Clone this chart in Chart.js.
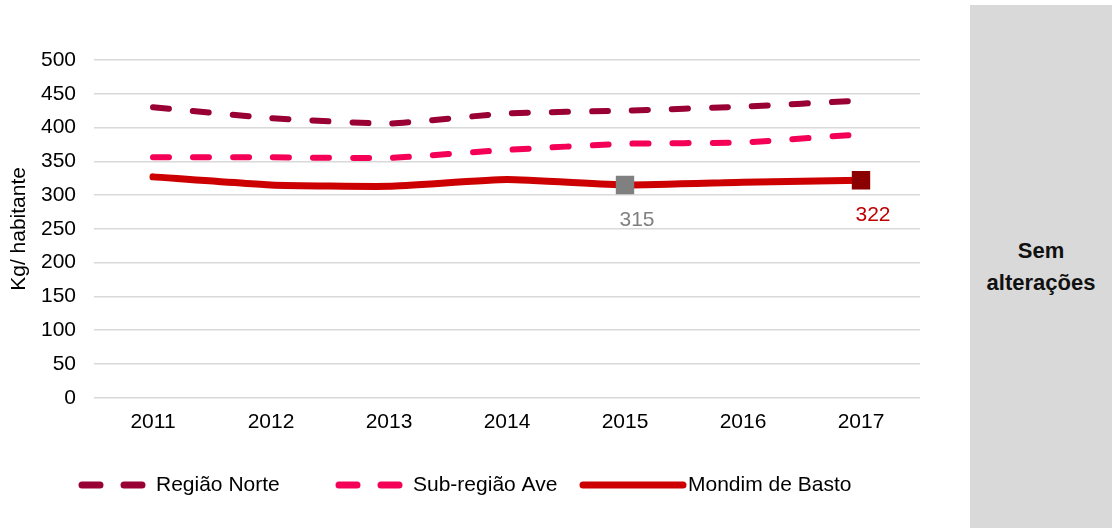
<!DOCTYPE html>
<html>
<head>
<meta charset="utf-8">
<script src="https://cdn.jsdelivr.net/npm/chart.js@4"></script>
<style>
  html, body { margin: 0; padding: 0; background: #fff; }
  #wrap { position: absolute; left: 0; top: 0; width: 960px; height: 528px; }
  #side {
    position: absolute; left: 970px; top: 5px; width: 142px; height: 523px;
    background: #d9d9d9; display: flex; align-items: center; justify-content: center;
    font: bold 22px "Liberation Sans", Arial, sans-serif; text-align: center; line-height: 1.45; color: #111;
  }
</style>
</head>
<body>
<div id="wrap"><canvas id="chart1"></canvas></div>
<div id="side">Sem<br>alterações</div>
<script>
const anos = ['2011', '2012', '2013', '2014', '2015', '2016', '2017'];
const regiaoNorte = [430, 414, 406, 421, 425, 431, 440];
const subRegiaoAve = [356, 356, 355, 367, 376, 378, 390];
const mondimBasto = [327, 315, 313, 323, 315, 319, 322];

// pontos destacados em Mondim de Basto (2015 e 2017)
const destaques = [
  { idx: 4, cor: '#808080', corTexto: '#808080' },
  { idx: 6, cor: '#8b0000', corTexto: '#c00000' }
];

const fonte = '"Liberation Sans", Arial, sans-serif';

const raios = mondimBasto.map((v, i) => destaques.some(d => d.idx === i) ? 13 : 0);
const coresPonto = mondimBasto.map((v, i) => {
  const d = destaques.find(d => d.idx === i);
  return d ? d.cor : '#cc0000';
});

const rotulos = {
  id: 'rotulos',
  afterDatasetsDraw(chart) {
    const ctx = chart.ctx;
    const meta = chart.getDatasetMeta(2);
    ctx.save();
    ctx.font = '21px ' + fonte;
    ctx.textAlign = 'center';
    ctx.textBaseline = 'middle';
    destaques.forEach(d => {
      const p = meta.data[d.idx];
      ctx.fillStyle = d.corTexto;
      ctx.fillText(String(mondimBasto[d.idx]), p.x + 12, p.y + 35);
    });
    ctx.restore();
  }
};

// legenda desenhada à mão para mostrar as linhas tracejadas
const legenda = {
  id: 'legenda',
  afterDraw(chart) {
    const ctx = chart.ctx;
    const y = 485;
    const itens = [
      { x: 82, w: 60, tx: 156, ds: chart.data.datasets[0] },
      { x: 339, w: 60, tx: 413, ds: chart.data.datasets[1] },
      { x: 583, w: 100, tx: 688, ds: chart.data.datasets[2] }
    ];
    ctx.save();
    ctx.font = '21px ' + fonte;
    ctx.textBaseline = 'middle';
    itens.forEach(it => {
      ctx.strokeStyle = it.ds.borderColor;
      ctx.lineWidth = 7;
      ctx.lineCap = 'round';
      ctx.setLineDash(it.ds.borderDash ? [18, 24] : []);
      ctx.beginPath();
      ctx.moveTo(it.x, y);
      ctx.lineTo(it.x + it.w, y);
      ctx.stroke();
      ctx.setLineDash([]);
      ctx.fillStyle = '#000';
      ctx.fillText(it.ds.label, it.tx, y);
    });
    ctx.restore();
  }
};

new Chart(document.getElementById('chart1'), {
  type: 'line',
  data: {
    labels: anos,
    datasets: [{
      label: 'Região Norte',
      data: regiaoNorte,
      borderColor: '#990033',
      borderWidth: 6,
      borderDash: [16, 24],
      borderCapStyle: 'round',
      pointRadius: 0,
      tension: 0.15
    }, {
      label: 'Sub-região Ave',
      data: subRegiaoAve,
      borderColor: '#f50057',
      borderWidth: 6,
      borderDash: [16, 24],
      borderCapStyle: 'round',
      pointRadius: 0,
      tension: 0.15
    }, {
      label: 'Mondim de Basto',
      data: mondimBasto,
      borderColor: '#cc0000',
      borderWidth: 7,
      borderCapStyle: 'round',
      pointStyle: 'rect',
      pointRadius: raios,
      pointBackgroundColor: coresPonto,
      pointBorderWidth: 0,
      tension: 0.15
    }]
  },
  options: {
    responsive: true,
    maintainAspectRatio: false,
    animation: false,
    layout: { padding: { top: 60, right: 40, bottom: 89, left: 0 } },
    plugins: {
      legend: { display: false },
      tooltip: { enabled: false }
    },
    scales: {
      x: {
        offset: true,
        grid: { display: false },
        border: { display: false },
        ticks: { color: '#000', font: { family: fonte, size: 21 }, padding: 4 }
      },
      y: {
        min: 0,
        max: 500,
        afterFit: (scale) => { scale.width = 94; },
        ticks: { stepSize: 50, color: '#000', font: { family: fonte, size: 21 }, padding: 18 },
        grid: { color: '#d9d9d9', lineWidth: 1.5, drawTicks: false },
        border: { display: false },
        title: { display: true, text: 'Kg/ habitante', color: '#000', font: { family: fonte, size: 21 }, padding: { top: 7, bottom: 0 } }
      }
    }
  },
  plugins: [rotulos, legenda]
});
</script>
</body>
</html>
